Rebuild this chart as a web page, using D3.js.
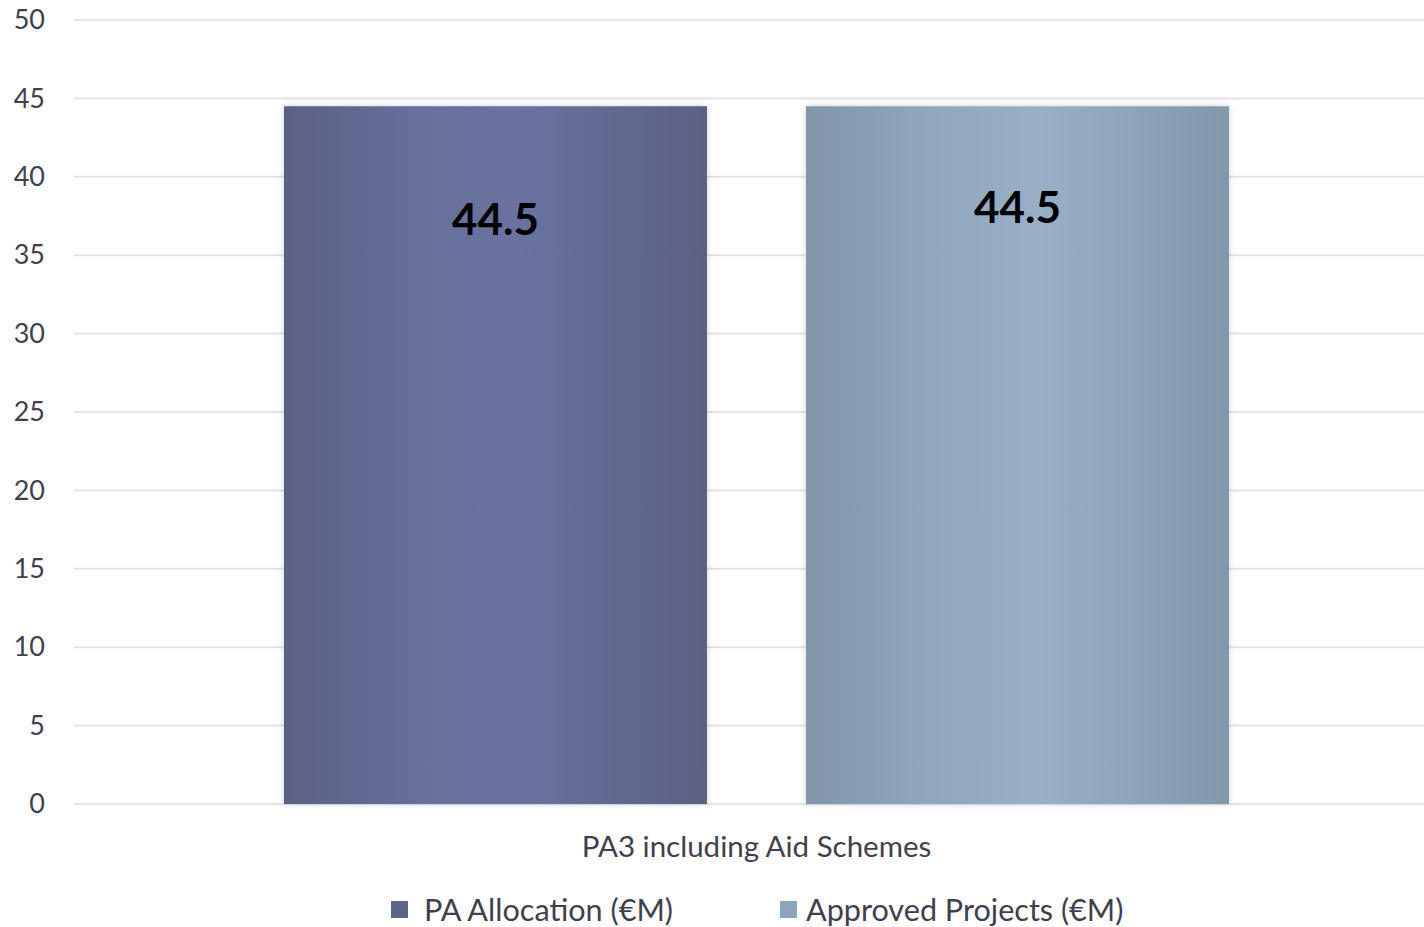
<!DOCTYPE html>
<html>
<head>
<meta charset="utf-8">
<script src="https://cdn.jsdelivr.net/npm/d3@7"></script>
<style>
  body { margin: 0; background: #fff; overflow: hidden; }
  svg { display: block; font-family: Lato, "Open Sans", sans-serif; }
</style>
</head>
<body>
<script>
const categories = ['PA3 including Aid Schemes'];
const seriesNames = ['PA Allocation (€M)', 'Approved Projects (€M)'];
const paAllocation = [44.5];
const approvedProjects = [44.5];
const yTicks = [0, 5, 10, 15, 20, 25, 30, 35, 40, 45, 50];

const width = 1424, height = 927;
const plotLeft = 74, plotRight = 1439, plotTop = 20, plotBottom = 804;
const textColor = '#3f3f4f';

const svg = d3.select('body').append('svg')
  .attr('width', width)
  .attr('height', height);

const defs = svg.append('defs');
const gradients = [
  ['#5a6182', '#666e9a', '#6a72a0', '#5a6182'],
  ['#8396a9', '#8fa7bf', '#97b0c8', '#8397aa']
];
gradients.forEach((stops, i) => {
  const g = defs.append('linearGradient')
    .attr('id', 'grad' + i)
    .attr('x1', '0%').attr('x2', '100%').attr('y1', '0%').attr('y2', '0%');
  [0, 0.3, 0.55, 1].forEach((o, j) => {
    g.append('stop').attr('offset', o).attr('stop-color', stops[j]);
  });
});
const shadow = defs.append('filter').attr('id', 'shadow')
  .attr('x', '-5%').attr('y', '-5%').attr('width', '110%').attr('height', '110%');
shadow.append('feDropShadow')
  .attr('dx', 0).attr('dy', 0).attr('stdDeviation', 3)
  .attr('flood-color', '#000').attr('flood-opacity', 0.18);

const y = d3.scaleLinear().domain([0, 50]).range([plotBottom, plotTop]);

const x0 = d3.scaleBand()
  .domain(categories)
  .range([plotLeft, plotRight])
  .paddingInner(0)
  .paddingOuter(0.2222);

const x1 = d3.scaleBand()
  .domain(seriesNames)
  .range([0, x0.bandwidth()])
  .paddingInner(0.1897)
  .paddingOuter(0);

// gridlines
svg.append('g')
  .selectAll('line')
  .data(yTicks)
  .join('line')
  .attr('x1', plotLeft).attr('x2', width)
  .attr('y1', d => y(d)).attr('y2', d => y(d))
  .attr('stroke', '#e2e2e8')
  .attr('stroke-width', 2);

// y axis labels
const yAxis = d3.axisLeft(y).tickValues(yTicks).tickSize(0).tickPadding(0);
svg.append('g')
  .attr('transform', `translate(45,0)`)
  .call(yAxis)
  .call(g => g.select('.domain').remove())
  .selectAll('text')
  .attr('font-size', 27)
  .attr('font-family', 'Lato, sans-serif')
  .attr('fill', textColor);

const rows = categories.map((c, i) => ({
  category: c,
  values: [paAllocation[i], approvedProjects[i]]
}));

const labelDy = [112, 100];

const groups = svg.append('g')
  .selectAll('g')
  .data(rows)
  .join('g')
  .attr('transform', d => `translate(${x0(d.category)},0)`);

groups.selectAll('rect')
  .data(d => d.values.map((v, i) => ({ name: seriesNames[i], value: v, i })))
  .join('rect')
  .attr('x', d => x1(d.name))
  .attr('y', d => y(d.value))
  .attr('width', x1.bandwidth())
  .attr('height', d => y(0) - y(d.value))
  .attr('fill', d => `url(#grad${d.i})`)
  .attr('filter', 'url(#shadow)');

groups.selectAll('text.value')
  .data(d => d.values.map((v, i) => ({ name: seriesNames[i], value: v, i })))
  .join('text')
  .attr('class', 'value')
  .attr('x', d => x1(d.name) + x1.bandwidth() / 2)
  .attr('y', d => y(d.value) + labelDy[d.i])
  .attr('text-anchor', 'middle')
  .attr('dominant-baseline', 'central')
  .attr('font-size', 44)
  .attr('font-weight', 'bold')
  .attr('fill', '#000')
  .text(d => d3.format('.1f')(d.value));

// category label
svg.append('g')
  .selectAll('text')
  .data(categories)
  .join('text')
  .attr('x', d => x0(d) + x0.bandwidth() / 2)
  .attr('y', 845)
  .attr('text-anchor', 'middle')
  .attr('dominant-baseline', 'central')
  .attr('font-size', 29.5)
  .attr('fill', textColor)
  .text(d => d);

// legend
const legendX = [391, 780];
const legendColors = ['#5c6488', '#8ca4bc'];
const legend = svg.append('g')
  .selectAll('g')
  .data(seriesNames)
  .join('g')
  .attr('transform', (d, i) => `translate(${legendX[i]},909)`);
legend.append('rect')
  .attr('x', 0).attr('y', -8)
  .attr('width', 17).attr('height', 17)
  .attr('fill', (d, i) => legendColors[i]);
legend.append('text')
  .attr('x', (d, i) => i === 0 ? 33 : 26)
  .attr('y', 0)
  .attr('dominant-baseline', 'central')
  .attr('font-size', 30.6)
  .attr('fill', textColor)
  .text(d => d);
</script>
</body>
</html>
